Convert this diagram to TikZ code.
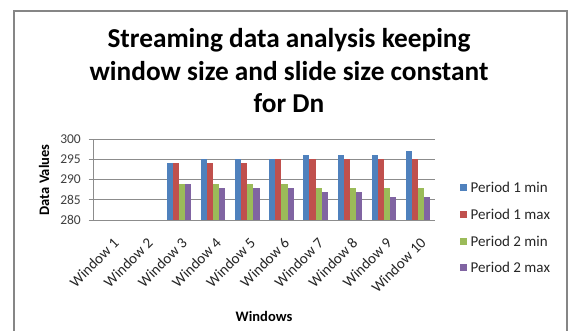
\documentclass[tikz,border=0pt]{standalone}
\usepackage{fontspec}
\setmainfont{Carlito}
\definecolor{pone}{HTML}{4F81BD}
\definecolor{ptwo}{HTML}{C0504D}
\definecolor{pthree}{HTML}{9BBB59}
\definecolor{pfour}{HTML}{8064A2}
\definecolor{gridc}{HTML}{8C8C8C}
\definecolor{framec}{HTML}{868686}
\definecolor{txt}{HTML}{262626}
\definecolor{ticktxt}{HTML}{404040}
\tikzset{
  titletext/.style={font=\fontsize{27.3}{30}\selectfont\bfseries, text=black, anchor=base, inner sep=0pt},
  ticktext/.style={font=\fontsize{13.5}{16}\selectfont, text=ticktxt, anchor=east, inner sep=0pt},
  wintext/.style={font=\fontsize{15}{17}\selectfont, text=txt, anchor=north east, inner sep=0pt, rotate=45},
  legtext/.style={font=\fontsize{15}{17}\selectfont, text=txt, anchor=west, inner sep=0pt},
  axtitle/.style={font=\fontsize{14.5}{17}\selectfont\bfseries, text=black, inner sep=0pt},
  gridline/.style={draw=gridc, line width=0.8pt},
  legbox/.style={minimum size=7pt, inner sep=0pt, draw=none}
}
\begin{document}
\begin{tikzpicture}[x=1pt,y=-1pt]
\useasboundingbox (0,0) rectangle (573,330);
\fill[white] (0,0) rectangle (573,330);
% frame
\draw[framec, line width=1.6pt] (13.9,340) -- (13.9,10.8) -- (567.2,10.8) -- (567.2,340);
% title
\node[titletext] (t1) at (289,47.3) {Streaming data analysis keeping};
\node[titletext] (t2) at (289,80) {window size and slide size constant};
\node[titletext] (t3) at (289,112.7) {for Dn};
% grid
\foreach \v in {285,290,295,300} {
  \draw[gridline] (88.5,{220-(\v-280)*4.05}) -- (434.5,{220-(\v-280)*4.05});
}
\draw[gridline] (88.5,220) -- (434.5,220);
\draw[gridline] (93.3,139) -- (93.3,220);
% tick labels
\foreach \v in {280,285,290,295,300} {
  \node[ticktext] (tick\v) at (81,{220-(\v-280)*4.05}) {\v};
}
% bars
\foreach \i/\a/\b/\c/\d in {3/294/294/289/289, 4/295/294/289/288, 5/295/294/289/288, 6/295/295/289/288, 7/296/295/288/287, 8/296/295/288/287, 9/296/295/288/285.7, 10/297/295/288/285.7} {
  \pgfmathsetmacro{\cx}{93.3+(\i-0.5)*34.12}
  \pgfmathsetmacro{\lx}{\cx-11.7}
  \fill[pone] (\lx,220) rectangle ({\lx+6.1},{220-(\a-280)*4.05});
  \fill[ptwo] ({\lx+6.1},220) rectangle ({\lx+12.2},{220-(\b-280)*4.05});
  \fill[pthree] ({\lx+12.2},220) rectangle ({\lx+18.3},{220-(\c-280)*4.05});
  \fill[pfour] ({\lx+18.3},220) rectangle ({\lx+24.4},{220-(\d-280)*4.05});
}
% window labels
\foreach \i in {1,...,10} {
  \node[wintext] (w\i) at ({93.3+(\i-0.5)*34.12+2},236.5) {Window \i};
}
% axis titles
\node[axtitle, rotate=90] (ytitle) at (44,180) {Data Values};
\node[axtitle] (xtitle) at (264,316) {Windows};
% legend
\node[legbox, fill=pone] (l1) at (463,187) {};
\node[legbox, fill=ptwo] (l2) at (463,214) {};
\node[legbox, fill=pthree] (l3) at (463,241) {};
\node[legbox, fill=pfour] (l4) at (463,267.5) {};
\node[legtext] (lt1) at (470.5,187) {Period 1 min};
\node[legtext] (lt2) at (470.5,214) {Period 1 max};
\node[legtext] (lt3) at (470.5,241) {Period 2 min};
\node[legtext] (lt4) at (470.5,267.5) {Period 2 max};
\end{tikzpicture}
\end{document}
